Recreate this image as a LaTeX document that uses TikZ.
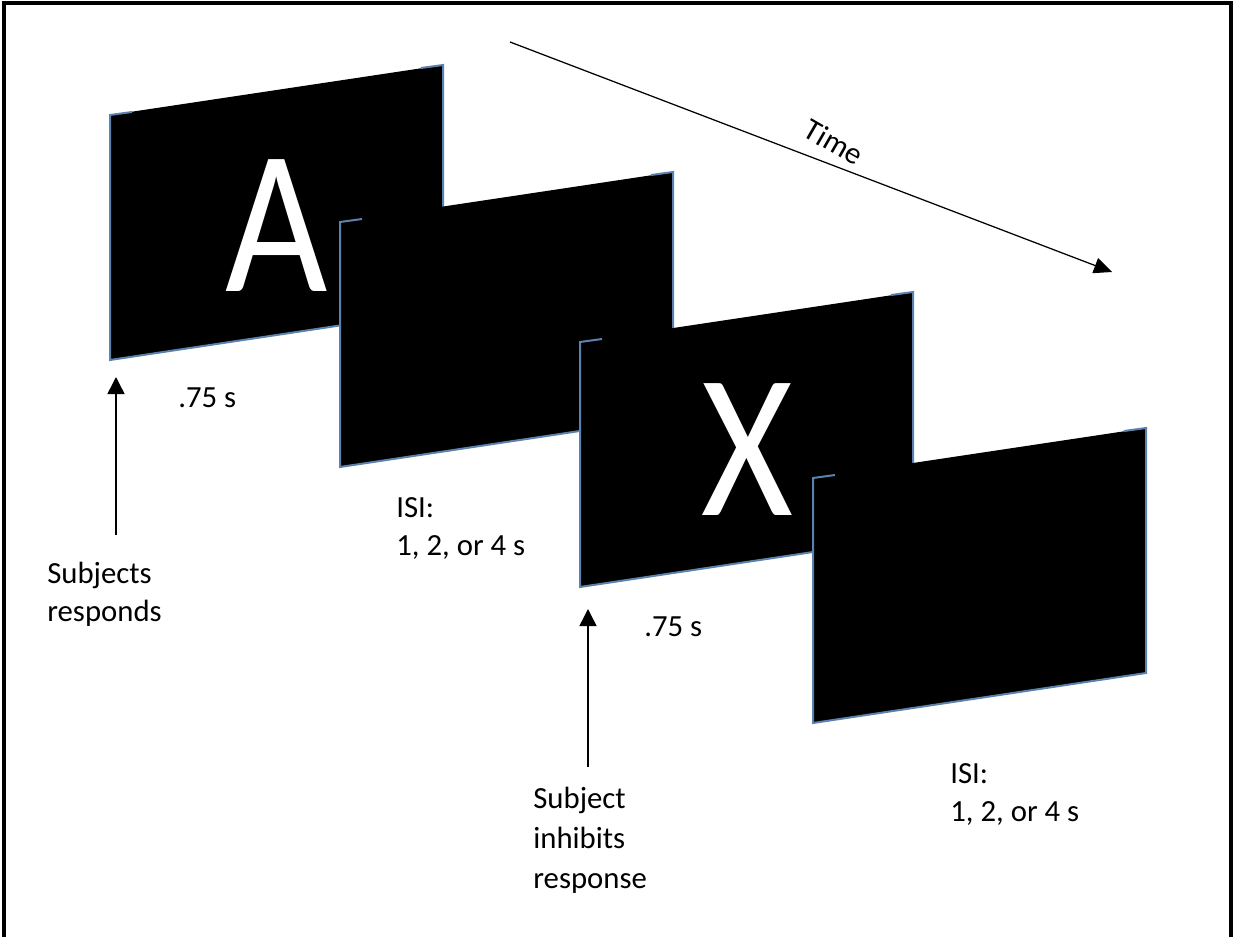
\documentclass[tikz,border=0pt]{standalone}
\usepackage{fontspec}
\setmainfont{Carlito}
\usetikzlibrary{arrows.meta, positioning}
\definecolor{screenedge}{HTML}{5B82AD}

\begin{document}
\begin{tikzpicture}[
    x=0.02cm, y=-0.02cm,
    every node/.style={font=\fontsize{17.5}{21.5}\selectfont, align=left, inner sep=0pt},
    edge/.style={draw=screenedge, line width=0.04cm},
    letter/.style={text=white, font=\fontsize{117}{117}\selectfont, xscale=0.86},
    arrow/.style={-{Triangle[length=0.34cm, width=0.34cm]}, line width=0.03cm},
    timearrow/.style={-{Triangle[length=0.36cm, width=0.32cm]}, line width=0.025cm}
]
\useasboundingbox (0,0) rectangle (1233,936);
\draw[line width=0.08cm] (4,940) -- (4,3) -- (1231,3) -- (1231,940);

% the four screens, front one last
\foreach \n/\x/\y in {1/110/115, 2/340/222, 3/580/342, 4/813/478} {
  \coordinate (tl\n) at (\x,\y);
  \fill (tl\n) -- ++(333,-50) -- ++(0,245) -- ++(-333,50) -- cycle;
  \draw[edge] ([shift={(22,-3)}]tl\n) -- (tl\n) -- ++(0,245) -- ++(333,-50) -- ++(0,-245) -- ++(-22,3);
}
\node[letter] (letA) at (277,226) {A};
\node[letter] (letX) at (747,450) {X};

% time axis
\coordinate (tstart) at (510,42);
\coordinate (tend) at (1112,272);
\draw[timearrow] (tstart) -- (tend);
\node[rotate=-30] (time) at (834,142) {Time};

% durations
\node[anchor=north west] (dur1) at (178,387) {.75 s};
\node[anchor=north west] (isi1) at (396,497) {ISI:\\1, 2, or 4 s};
\node[anchor=north west] (dur2) at (644,616) {.75 s};
\node[anchor=north west] (isi2) at (950,763) {ISI:\\1, 2, or 4 s};

% responses
\node[anchor=north west] (resp) at (47,562) {Subjects\\responds};
\node[anchor=north west, font=\fontsize{17.5}{22.8}\selectfont] (inhib) at (533,787) {Subject\\inhibits\\response};
\coordinate (resptail) at (116,535);
\coordinate (resptip) at (116,377);
\coordinate (inhibtail) at (588,767);
\coordinate (inhibtip) at (588,609);
\draw[arrow] (resptail) -- (resptip);
\draw[arrow] (inhibtail) -- (inhibtip);
\end{tikzpicture}
\end{document}
